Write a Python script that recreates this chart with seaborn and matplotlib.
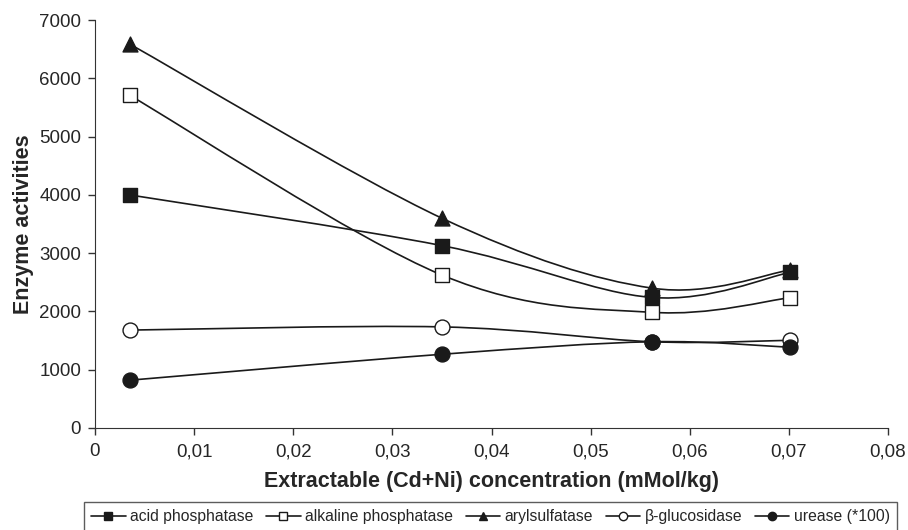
import numpy as np
import pandas as pd
import seaborn as sns
import matplotlib.pyplot as plt
from matplotlib.path import Path
from matplotlib.patches import PathPatch
from matplotlib.lines import Line2D
from matplotlib.ticker import FuncFormatter

# concentration of extractable Cd+Ni (mMol/kg)
conc = [0.0035, 0.035, 0.0562, 0.0701]

# enzyme activities
acid_phosphatase = [4000, 3130, 2240, 2670]
alkaline_phosphatase = [5710, 2625, 1985, 2235]
arylsulfatase = [6590, 3600, 2400, 2710]
beta_glucosidase = [1680, 1735, 1480, 1505]
urease = [820, 1265, 1480, 1385]

names = ['acid phosphatase', 'alkaline phosphatase', 'arylsulfatase',
         'β-glucosidase', 'urease (*100)']
series = [acid_phosphatase, alkaline_phosphatase, arylsulfatase,
          beta_glucosidase, urease]
markers = ['s', 's', '^', 'o', 'o']
faces = ['#1a1a1a', 'white', '#1a1a1a', 'white', '#1a1a1a']

rows = []
for n, vals in zip(names, series):
    for c, v in zip(conc, vals):
        rows.append({'conc': c, 'activity': v, 'enzyme': n})
df = pd.DataFrame(rows)

sns.set_style('ticks')
plt.rcParams['font.family'] = ['Liberation Sans', 'DejaVu Sans']

fig = plt.figure(figsize=(9.08, 5.30), dpi=100)
ax = fig.add_axes([0.1046, 0.1925, 0.8734, 0.7695])


def smooth_path(xs, ys):
    # excel style smoothed line (bezier through the points)
    pts = np.column_stack([xs, ys]).astype(float)
    verts = [pts[0]]
    codes = [Path.MOVETO]
    n = len(pts)
    for i in range(n - 1):
        p0 = pts[i - 1] if i > 0 else pts[i]
        p1 = pts[i]
        p2 = pts[i + 1]
        p3 = pts[i + 2] if i + 2 < n else pts[i + 1]
        c1 = p1 + (p2 - p0) / 6
        c2 = p2 - (p3 - p1) / 6
        verts += [c1, c2, p2]
        codes += [Path.CURVE4] * 3
    return Path(verts, codes)


for n, m, fc in zip(names, markers, faces):
    sub = df[df['enzyme'] == n]
    ax.add_patch(PathPatch(smooth_path(sub['conc'], sub['activity']),
                           facecolor='none', edgecolor='#1a1a1a', lw=1.2, zorder=2))
    sns.scatterplot(data=sub, x='conc', y='activity', marker=m, s=115,
                    color=fc, edgecolor='#1a1a1a', linewidth=1.0, ax=ax,
                    zorder=3, legend=False)

ax.set_xlim(0, 0.08)
ax.set_ylim(0, 7000)
ax.set_xticks(np.arange(0, 0.081, 0.01))
ax.set_yticks(range(0, 7001, 1000))
ax.xaxis.set_major_formatter(FuncFormatter(
    lambda v, p: '0' if abs(v) < 1e-9 else f'{v:.2f}'.replace('.', ',')))
ax.tick_params(labelsize=13.5, length=5, width=1, color='#333333')
ax.tick_params(axis='x', pad=6)
ax.tick_params(axis='y', pad=5)
for s in ['top', 'right']:
    ax.spines[s].set_visible(False)
for s in ['left', 'bottom']:
    ax.spines[s].set_color('#333333')
ax.set_xlabel('Extractable (Cd+Ni) concentration (mMol/kg)', fontsize=15.5,
              fontweight='bold', labelpad=8)
ax.set_ylabel('Enzyme activities', fontsize=15.5, fontweight='bold', labelpad=4)

handles = [Line2D([], [], color='#1a1a1a', lw=1.2, marker=m, markersize=6,
                  markerfacecolor=fc, markeredgecolor='#1a1a1a')
           for m, fc in zip(markers, faces)]
leg = fig.legend(handles, names, loc='upper left', ncol=5, mode='expand',
                 bbox_to_anchor=(84 / 908, 0, (897 - 84) / 908, 1 - 502 / 530),
                 fontsize=11.3, frameon=True, fancybox=False, handlelength=2.2,
                 handletextpad=0.3, columnspacing=0.3, borderpad=0.45,
                 borderaxespad=0)
leg.get_frame().set_edgecolor('#333333')
leg.get_frame().set_linewidth(1.0)

fig.savefig('out.png', dpi=100)
